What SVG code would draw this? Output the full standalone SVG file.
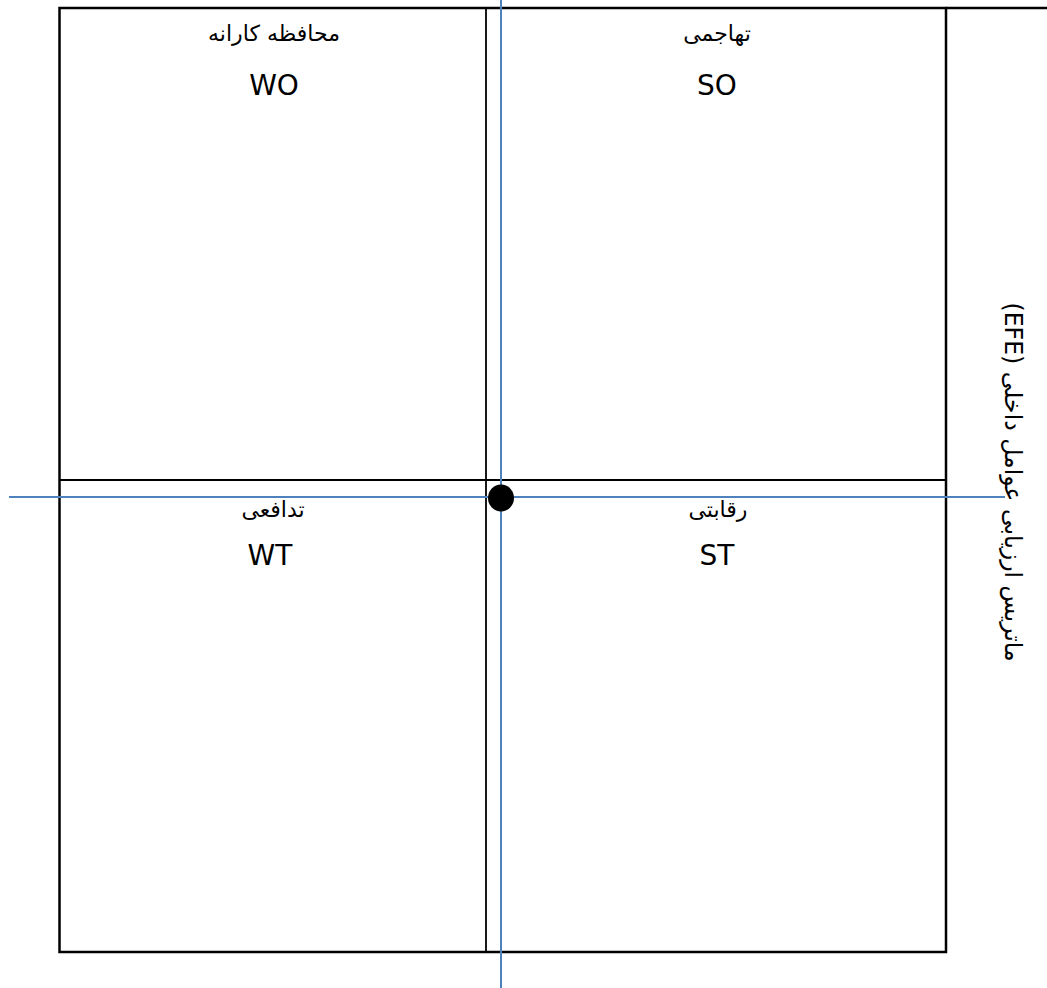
<svg xmlns="http://www.w3.org/2000/svg" width="1047" height="988" viewBox="0 0 1047 988">
<style>
.frame{fill:none;stroke:#000;stroke-width:2.5}
.div{stroke:#000;stroke-width:1.8}
.axis{stroke:#4F81BD;stroke-width:2}
.ar{font-family:"DejaVu Sans",sans-serif;font-size:22px;fill:#000;text-anchor:middle}
.lat{font-family:"DejaVu Sans",Verdana,sans-serif;font-size:28px;fill:#000;text-anchor:middle}
.vert{font-family:"DejaVu Sans",sans-serif;font-size:24px;fill:#000;text-anchor:middle}
</style>
<rect width="1047" height="988" fill="#fff"/>
<g id="frame">
<rect class="frame" x="59.5" y="8" width="886.5" height="944"/>
<line class="frame" x1="946" y1="8" x2="1047" y2="8"/>
<line class="div" x1="486" y1="8" x2="486" y2="952"/>
<line class="div" x1="59.5" y1="480" x2="946" y2="480"/>
</g>
<g id="WO">
<text class="ar" x="274" y="41" direction="rtl">محافظه کارانه</text>
<text class="lat" x="274" y="95">WO</text>
</g>
<g id="SO">
<text class="ar" x="717" y="41" direction="rtl">تهاجمی</text>
<text class="lat" x="717" y="95">SO</text>
</g>
<g id="WT">
<text class="ar" x="273" y="517" direction="rtl">تدافعی</text>
<text class="lat" x="270" y="565">WT</text>
</g>
<g id="ST">
<text class="ar" x="718" y="517" direction="rtl">رقابتی</text>
<text class="lat" x="717" y="565">ST</text>
</g>
<g id="axis-label">
<text class="vert" transform="translate(1005,482) rotate(90)" x="0" y="0" direction="rtl" textLength="359" lengthAdjust="spacingAndGlyphs">ماتریس ارزیابی عوامل داخلی (EFE)</text>
</g>
<g id="connectors">
<line class="axis" x1="501" y1="0" x2="501" y2="988"/>
<line class="axis" x1="9" y1="497" x2="1005" y2="497"/>
</g>
<g id="point">
<ellipse cx="501" cy="498" rx="13" ry="13.5" fill="#000"/>
</g>
</svg>
